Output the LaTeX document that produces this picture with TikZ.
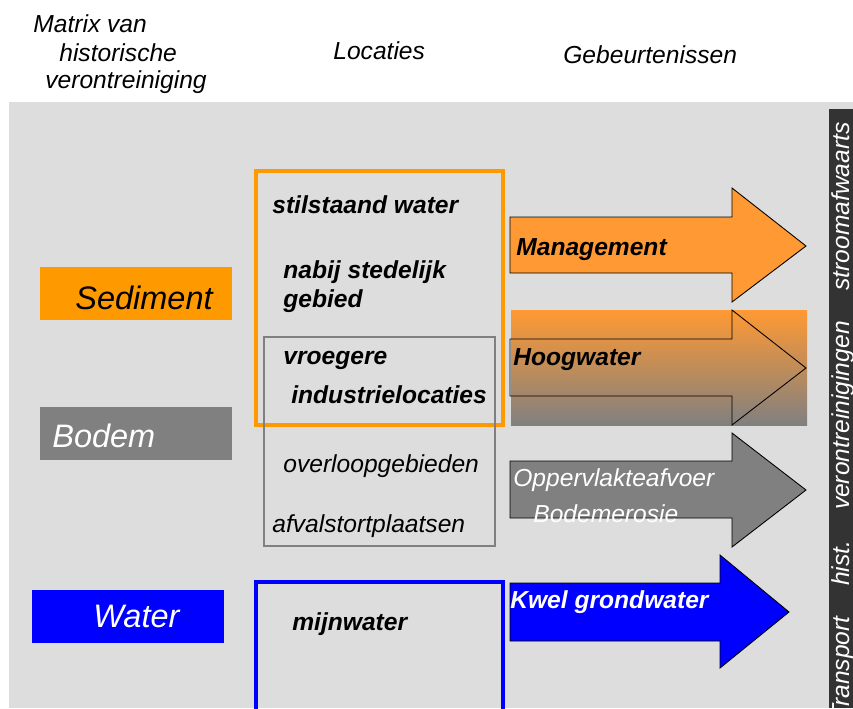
\documentclass[tikz,border=0pt]{standalone}
\usepackage{fontspec}
\setsansfont{Liberation Sans}
\usetikzlibrary{calc}
\definecolor{panel}{RGB}{221,221,221}
\definecolor{sediment}{RGB}{255,153,0}
\definecolor{sedarrow}{RGB}{255,153,51}
\definecolor{bodem}{RGB}{128,128,128}
\definecolor{water}{RGB}{0,0,255}
\definecolor{transport}{RGB}{51,51,51}

\begin{document}
\begin{tikzpicture}[
  x=0.02cm,y=-0.02cm,
  font=\sffamily\itshape\fontsize{14}{16}\selectfont,
  heading/.style={anchor=base west, text=black, inner sep=0pt},
  medium/.style={anchor=base west, inner sep=0pt,
                 font=\sffamily\itshape\fontsize{18.5}{22}\selectfont},
  place/.style={anchor=base west, inner sep=0pt,
                font=\sffamily\bfseries\itshape\fontsize{14}{16}\selectfont},
  plain/.style={anchor=base west, inner sep=0pt},
  swatch/.style={minimum width=3.84cm, minimum height=1.06cm, inner sep=0pt},
  blockarrow/.style={draw=black, line width=0.5pt, line join=miter}
]
\useasboundingbox (0,0) rectangle (853,708);

% Grey panel with the dark side bar for downstream transport.
\fill[panel] (9,102) rectangle (853,708);
\fill[transport] (829,109) rectangle (853,708);
\node[plain, rotate=90, anchor=base east, text=white] (transportlbl)
  at (849,122) {Transport\hspace{1.25em}hist.\hspace{1.25em}verontreinigingen\hspace{1.25em}stroomafwaarts};

% Column headings.
\node[heading] (hdmatrixA) at (33,32) {Matrix van};
\node[heading] (hdmatrixB) at (59,61) {historische};
\node[heading] (hdmatrixC) at (45,88) {verontreiniging};
\node[heading] (hdlocaties) at (333,59) {Locaties};
\node[heading] (hdevents) at (563,63) {Gebeurtenissen};

% Compartments on the left.
\node[swatch, fill=sediment] (sediment) at (136,293.5) {};
\node[medium, text=black] at (75,309) {Sediment};

\node[swatch, fill=bodem] (bodem) at (136,433.5) {};
\node[medium, text=white] at (52,447) {Bodem};

\node[swatch, fill=water] (water) at (128,616.5) {};
\node[medium, text=white] at (93,627) {Water};

% Locations. The orange and grey frames overlap on the old industrial sites.
\draw[sediment, line width=2.3pt] (256,171) rectangle (503,425);
\draw[bodem, line width=1.1pt] (264,337) rectangle (495,546);
\draw[water, line width=2.3pt] (256,582) rectangle (503,720);

\node[place] (stilstaand) at (272,213) {stilstaand water};
\node[place] (stedelijkA) at (283,278) {nabij stedelijk};
\node[place] (stedelijkB) at (283,307) {gebied};
\node[place] (vroeger) at (283,364) {vroegere};
\node[place] (industrie) at (291,403) {industrielocaties};
\node[plain] (overloop) at (283,472) {overloopgebieden};
\node[plain] (afval) at (272,532) {afvalstortplaatsen};
\node[place] (mijnwater) at (292,630) {mijnwater};

% Events as block arrows.
\fill[sedarrow] (510,217) -- (732,217) -- (732,188) -- (806,246)
  -- (732,302) -- (732,273) -- (510,273) -- cycle;
\draw[blockarrow] (510,217) -- (732,217) -- (732,188) -- (806,246)
  -- (732,302) -- (732,273) -- (510,273) -- cycle;
\node[place] (management) at (516,255) {Management};

\shade[top color=sedarrow, bottom color=bodem] (511,310) rectangle (807,425);
\draw[blockarrow] (510,339) -- (732,339) -- (732,310) -- (806,368)
  -- (732,425) -- (732,396) -- (510,396) -- cycle;
\node[place] (hoogwater) at (513,365) {Hoogwater};

\draw[blockarrow, fill=bodem] (510,461) -- (732,461) -- (732,433)
  -- (806,490) -- (732,547) -- (732,518) -- (510,518) -- cycle;
\node[plain, text=white] (afvoer) at (513,486) {Oppervlakteafvoer};
\node[plain, text=white] (erosie) at (533,522) {Bodemerosie};

\draw[blockarrow, fill=water] (510,583) -- (720,583) -- (720,555)
  -- (789,612) -- (720,668) -- (720,641) -- (510,641) -- cycle;
\node[place, text=white] (kwel) at (510,608) {Kwel grondwater};

\end{tikzpicture}
\end{document}
